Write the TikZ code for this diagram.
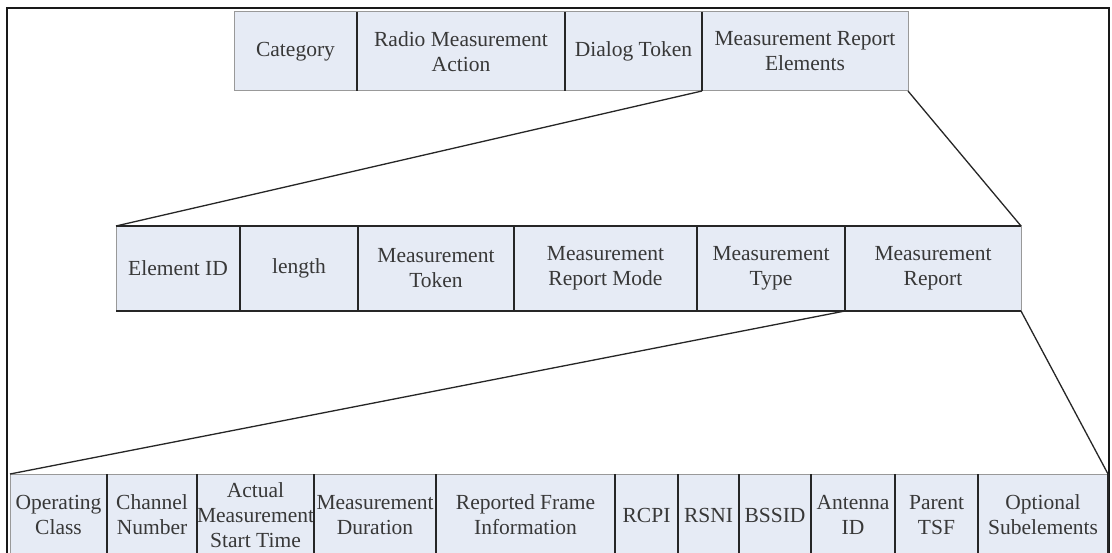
\documentclass[tikz,border=0pt]{standalone}
\usepackage{fontspec}
\setmainfont{Liberation Serif}
\usetikzlibrary{positioning}
\definecolor{fieldfill}{HTML}{E6EBF5}
\definecolor{fieldtext}{HTML}{383838}
\tikzset{
  field/.style={draw=black!40, fill=fieldfill, line width=1pt, outer sep=0pt, inner sep=0pt,
    align=center, text=fieldtext, font=\fontsize{21.5}{25}\selectfont, minimum width=#1},
  toprow/.style={field=#1, minimum height=79pt},
  midrow/.style={field=#1, minimum height=85pt},
  botrow/.style={field=#1, minimum height=82pt},
  divider/.style={draw=black!85, line width=1.4pt},
  rowedge/.style={draw=black!85, line width=2.2pt},
  zoomline/.style={draw=black!85, line width=1.3pt},
  frame/.style={draw=black!90, line width=1.6pt}
}
\begin{document}
\begin{tikzpicture}[x=1pt,y=-1pt]
\clip (0,0) rectangle (1112,553);
\fill[white] (0,0) rectangle (1112,553);
\draw[frame] (7,560) -- (7,8) -- (1109,8) -- (1109,560);

% action frame
\node[toprow=123pt, anchor=north west] (category) at (234,12) {Category};
\node[toprow=208pt, right=0pt of category] (rmaction) {Radio Measurement\\Action};
\node[toprow=137pt, right=0pt of rmaction] (dialog) {Dialog Token};
\node[toprow=206pt, right=0pt of dialog] (mrelems) {Measurement Report\\Elements};
\foreach \n in {category,rmaction,dialog}
  \draw[divider] (\n.north east) -- (\n.south east);

% measurement report element
\node[midrow=124pt, anchor=north west] (elemid) at (116,226) {Element ID};
\node[midrow=118pt, right=0pt of elemid] (length) {length};
\node[midrow=156pt, right=0pt of length] (mtoken) {Measurement\\Token};
\node[midrow=183pt, right=0pt of mtoken] (mrmode) {Measurement\\Report Mode};
\node[midrow=148pt, right=0pt of mrmode] (mtype) {Measurement\\Type};
\node[midrow=176pt, right=0pt of mtype] (mreport) {Measurement\\Report};
\foreach \n in {elemid,length,mtoken,mrmode,mtype}
  \draw[divider] (\n.north east) -- (\n.south east);
\draw[rowedge] (elemid.north west) -- (mreport.north east);
\draw[rowedge] (elemid.south west) -- (mreport.south east);

% beacon report
\node[botrow=97pt, anchor=north west] (opclass) at (10,474) {Operating\\Class};
\node[botrow=90pt, right=0pt of opclass] (chnum) {Channel\\Number};
\node[botrow=115pt, right=0pt of chnum] (starttime) {Actual\\Measurement\\Start Time};
\node[botrow=122pt, right=0pt of starttime] (mduration) {Measurement\\Duration};
\node[botrow=179pt, right=0pt of mduration] (rframe) {Reported Frame\\Information};
\node[botrow=63pt, right=0pt of rframe] (rcpi) {RCPI};
\node[botrow=61pt, right=0pt of rcpi] (rsni) {RSNI};
\node[botrow=72pt, right=0pt of rsni] (bssid) {BSSID};
\node[botrow=84pt, right=0pt of bssid] (antenna) {Antenna\\ID};
\node[botrow=83pt, right=0pt of antenna] (ptsf) {Parent\\TSF};
\node[botrow=130pt, right=0pt of ptsf] (optsub) {Optional\\Subelements};
\foreach \n in {opclass,chnum,starttime,mduration,rframe,rcpi,rsni,bssid,antenna,ptsf}
  \draw[divider] (\n.north east) -- (\n.south east);
\draw[divider] (optsub.north east) -- (optsub.south east);

% zoom lines
\draw[zoomline] (dialog.south east) -- (elemid.north west);
\draw[zoomline] (mrelems.south east) -- (mreport.north east);
\draw[zoomline] (mreport.south west) -- (opclass.north west);
\draw[zoomline] (mreport.south east) -- (optsub.north east);
\end{tikzpicture}
\end{document}
